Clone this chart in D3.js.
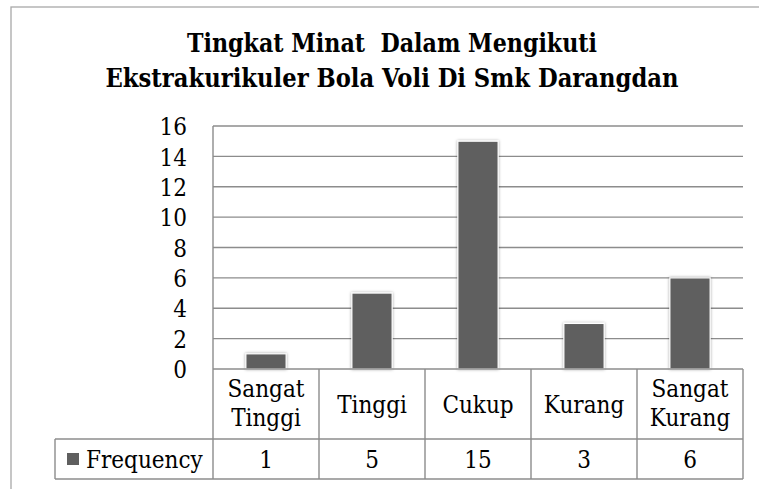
<!DOCTYPE html>
<html>
<head>
<meta charset="utf-8">
<script src="https://cdn.jsdelivr.net/npm/d3@7"></script>
<style>
  html, body { margin: 0; padding: 0; background: #fff; }
  svg { display: block; }
  text { font-family: "DejaVu Serif Condensed", "DejaVu Serif", serif; font-stretch: condensed; fill: #000; }
</style>
</head>
<body>
<script>
const titleLines = ["Tingkat Minat  Dalam Mengikuti", "Ekstrakurikuler Bola Voli Di Smk Darangdan"];
const titleWidths = [410, 573];
const categories = ["Sangat Tinggi", "Tinggi", "Cukup", "Kurang", "Sangat Kurang"];
const seriesName = "Frequency";
const frequency = [1, 5, 15, 3, 6];
const yTicks = [0, 2, 4, 6, 8, 10, 12, 14, 16];

const W = 759, H = 489;
const svg = d3.select("body").append("svg").attr("width", W).attr("height", H);

const plot = { left: 213, right: 743, top: 126, bottom: 369 };
const table = { left: 55, rowMid: 439, bottom: 479 };
const gridColor = "#8c8c8c";

// outer chart border
svg.append("rect").attr("x", 11).attr("y", 7).attr("width", W + 20).attr("height", H + 20)
  .attr("fill", "none").attr("stroke", "#a8a8a8").attr("stroke-width", 1.3);

// title
svg.append("g").selectAll("text").data(titleLines).join("text")
  .attr("x", 392).attr("y", (d, i) => 52 + i * 35)
  .attr("text-anchor", "middle")
  .attr("font-weight", "bold").attr("font-size", 26.5)
  .attr("textLength", (d, i) => titleWidths[i])
  .attr("lengthAdjust", "spacingAndGlyphs")
  .style("white-space", "pre")
  .text(d => d);

const x = d3.scaleBand().domain(categories).range([plot.left, plot.right]).padding(0);
const y = d3.scaleLinear().domain([0, 16]).range([plot.bottom, plot.top]);

// gridlines
svg.append("g").selectAll("line").data(yTicks.filter(t => t > 0)).join("line")
  .attr("x1", plot.left).attr("x2", plot.right)
  .attr("y1", d => y(d)).attr("y2", d => y(d))
  .attr("stroke", gridColor).attr("stroke-width", 1.4);

// y axis labels
const yAxis = d3.axisLeft(y).tickValues(yTicks).tickSize(0).tickPadding(0).tickFormat(d3.format("d"));
const yg = svg.append("g").attr("transform", `translate(187,0)`).call(yAxis);
yg.select(".domain").remove();
yg.selectAll("text").attr("font-size", 24).attr("dy", "0.36em").attr("fill", "#000")
  .style("font-family", '"DejaVu Serif Condensed", "DejaVu Serif", serif');

// bar shadow filter
const defs = svg.append("defs");
const f = defs.append("filter").attr("id", "sh").attr("x", "-30%").attr("y", "-30%").attr("width", "160%").attr("height", "160%");
f.append("feDropShadow").attr("dx", 0).attr("dy", 0).attr("stdDeviation", 1.6)
  .attr("flood-color", "#000").attr("flood-opacity", 0.35);

// bars
const barW = x.bandwidth() * 0.38;
svg.append("g").selectAll("rect").data(categories).join("rect")
  .attr("x", d => x(d) + (x.bandwidth() - barW) / 2)
  .attr("width", barW)
  .attr("y", (d, i) => y(frequency[i]))
  .attr("height", (d, i) => y(0) - y(frequency[i]))
  .attr("fill", "#5f5f5f")
  .attr("stroke", "#ffffff").attr("stroke-width", 1.2)
  .attr("filter", "url(#sh)");

// data table lines
const tg = svg.append("g").attr("stroke", gridColor).attr("stroke-width", 1.4).attr("fill", "none");
tg.append("line").attr("x1", plot.left).attr("x2", plot.right).attr("y1", plot.bottom).attr("y2", plot.bottom);
tg.append("line").attr("x1", plot.left).attr("x2", plot.left).attr("y1", plot.top).attr("y2", table.bottom);
tg.append("line").attr("x1", table.left).attr("x2", plot.right).attr("y1", table.rowMid).attr("y2", table.rowMid);
tg.append("line").attr("x1", table.left).attr("x2", plot.right).attr("y1", table.bottom).attr("y2", table.bottom);
tg.append("line").attr("x1", table.left).attr("x2", table.left).attr("y1", table.rowMid).attr("y2", table.bottom);
tg.selectAll("line.col").data(categories).join("line").attr("class", "col")
  .attr("x1", d => x(d) + x.bandwidth()).attr("x2", d => x(d) + x.bandwidth())
  .attr("y1", plot.bottom).attr("y2", table.bottom);

// category labels
const cg = svg.append("g");
categories.forEach(c => {
  const words = c.split(" ");
  const cx = x(c) + x.bandwidth() / 2;
  const baseY = words.length === 2 ? 397 : 413;
  words.forEach((w, i) => {
    cg.append("text").attr("x", cx).attr("y", baseY + i * 28.5)
      .attr("text-anchor", "middle").attr("font-size", 24).text(w);
  });
});

// frequency row
svg.append("rect").attr("x", 67).attr("y", 453).attr("width", 12).attr("height", 12).attr("fill", "#5f5f5f");
svg.append("text").attr("x", 86).attr("y", 468).attr("font-size", 24).text(seriesName);
svg.append("g").selectAll("text").data(categories).join("text")
  .attr("x", d => x(d) + x.bandwidth() / 2).attr("y", 468)
  .attr("text-anchor", "middle").attr("font-size", 24)
  .text((d, i) => frequency[i]);
</script>
</body>
</html>
